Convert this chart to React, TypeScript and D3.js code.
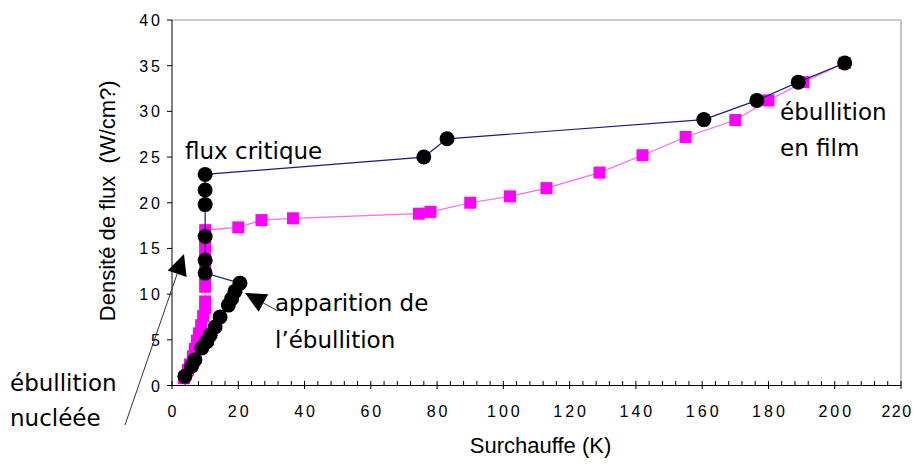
import React from "react";
import * as d3 from "d3";

const xTicks = [0, 20, 40, 60, 80, 100, 120, 140, 160, 180, 200, 220];
const yTicks = [0, 5, 10, 15, 20, 25, 30, 35, 40];

const blackX = [3.9, 5.9, 6.9, 9.0, 10.5, 11.5, 13, 14.5, 17, 18, 19, 20.5, 10, 10, 10, 10, 10, 10, 76, 83, 160.5, 176.5, 189, 203];
const blackY = [1.0, 2.1, 2.8, 4.1, 4.8, 5.5, 6.4, 7.5, 8.8, 9.5, 10.3, 11.2, 12.3, 13.7, 16.3, 19.8, 21.4, 23.1, 25.0, 27.0, 29.1, 31.2, 33.2, 35.3];

const magX = [3.6, 4.8, 5.4, 6.3, 6.9, 7.5, 8.1, 8.8, 9.4, 10, 10, 10, 10, 10, 10, 10, 10, 10, 20, 27, 36.5, 74.5, 78, 90, 102, 113, 129, 142, 155, 170, 180, 190.5, 203];
const magY = [0.8, 1.7, 2.3, 3.2, 4.0, 4.9, 5.7, 6.6, 7.6, 8.5, 9.2, 10.8, 12, 13, 14, 15, 16, 17, 17.3, 18.1, 18.3, 18.8, 19.0, 20.0, 20.7, 21.6, 23.3, 25.2, 27.2, 29.05, 31.2, 33.2, 35.3];

const W = 917;
const H = 465;

function Arrow({ x1, y1, x2, y2 }: { x1: number; y1: number; x2: number; y2: number }) {
  const dx = x2 - x1;
  const dy = y2 - y1;
  const len = Math.hypot(dx, dy);
  const ux = dx / len;
  const uy = dy / len;
  const hl = 21;
  const hw = 10;
  const bx = x2 - ux * hl;
  const by = y2 - uy * hl;
  const pts = `${x2},${y2} ${bx - uy * hw},${by + ux * hw} ${bx + uy * hw},${by - ux * hw}`;
  return (
    <g>
      <line x1={x1} y1={y1} x2={bx} y2={by} stroke="#333" strokeWidth={1} />
      <polygon points={pts} fill="#000" />
    </g>
  );
}

export default function App() {
  const x = d3.scaleLinear().domain([0, 220]).range([172, 901]);
  const y = d3.scaleLinear().domain([0, 40]).range([385.5, 20]);

  const blackPts: [number, number][] = blackX.map((v, i) => [v, blackY[i]]);
  const magPts: [number, number][] = magX.map((v, i) => [v, magY[i]]);
  const line = d3
    .line<[number, number]>()
    .x((d) => x(d[0]))
    .y((d) => y(d[1]));

  const minorTicks = d3.range(0, 221, 4);
  const tickFont = "'Liberation Sans', Arial, sans-serif";
  const annFont = "'DejaVu Sans', sans-serif";
  const sq = 12;

  return (
    <svg
      width={W}
      height={H}
      style={{ position: "absolute", left: 0, top: 0, background: "#fff" }}
    >
      <rect x={0} y={0} width={W} height={H} fill="#fff" />
      {/* plot border */}
      <line x1={x(0)} y1={y(40)} x2={x(220)} y2={y(40)} stroke="#999" strokeWidth={1.2} />
      <line x1={x(220)} y1={y(40)} x2={x(220)} y2={y(0)} stroke="#999" strokeWidth={1.2} />

      {/* axes */}
      <line x1={x(0)} y1={y(0)} x2={x(220)} y2={y(0)} stroke="#000" strokeWidth={1} />
      <line x1={x(0)} y1={y(0)} x2={x(0)} y2={y(40)} stroke="#000" strokeWidth={1} />
      {minorTicks.map((t) => (
        <line key={"m" + t} x1={x(t)} x2={x(t)} y1={y(0) - 4.5} y2={t % 20 === 0 ? y(0) + 3.5 : y(0)} stroke="#000" strokeWidth={1} />
      ))}
      {yTicks.map((t) => (
        <line key={"yt" + t} x1={x(0) - 5} x2={x(0)} y1={y(t)} y2={y(t)} stroke="#000" strokeWidth={1} />
      ))}
      {xTicks.map((t) => (
        <text
          key={"xl" + t}
          x={t === 220 ? x(t) - 4 : x(t) + 1.5}
          y={y(0) + 31}
          textAnchor="middle"
          fontFamily={tickFont}
          fontSize={16}
          letterSpacing={t === 220 ? 1.5 : 3}
          fill="#000"
        >
          {t}
        </text>
      ))}
      {yTicks.map((t) => (
        <text
          key={"yl" + t}
          x={163}
          y={y(t) + 6}
          textAnchor="end"
          fontFamily={tickFont}
          fontSize={16}
          letterSpacing={3}
          fill="#000"
        >
          {t}
        </text>
      ))}
      <text
        x={x(110) + 4}
        y={453}
        textAnchor="middle"
        fontFamily={tickFont}
        fontSize={22}
        fill="#000"
      >
        Surchauffe (K)
      </text>
      <text
        transform={`translate(115, ${y(20) - 2}) rotate(-90)`}
        textAnchor="middle"
        fontFamily={tickFont}
        fontSize={22}
        fill="#000"
        style={{ whiteSpace: "pre" }}
      >
        {"Densité de flux  (W/cm?)"}
      </text>

      {/* magenta series */}
      <path d={line(magPts) || ""} fill="none" stroke="#ff66ff" strokeWidth={1.2} />
      {magPts.map((d, i) => (
        <rect key={"s" + i} x={x(d[0]) - sq / 2} y={y(d[1]) - sq / 2} width={sq} height={sq} fill="#ff00ff" />
      ))}

      {/* black series */}
      <path d={line(blackPts) || ""} fill="none" stroke="#1a1a80" strokeWidth={1.2} />
      {blackPts.map((d, i) => (
        <circle key={"c" + i} cx={x(d[0])} cy={y(d[1])} r={7.5} fill="#000" />
      ))}

      {/* annotations */}
      <g fontFamily={annFont} fontSize={23} fill="#000">
        <text x={185} y={159}>flux critique</text>
        <text x={780} y={120}>ébullition</text>
        <text x={780} y={156}>en film</text>
        <text x={275} y={311}>apparition de</text>
        <text x={275} y={348}>l’ébullition</text>
        <text x={10} y={391}>ébullition</text>
        <text x={10} y={426}>nucléée</text>
      </g>
      <Arrow x1={125} y1={425} x2={184} y2={254} />
      <Arrow x1={278} y1={311} x2={245} y2={293} />
    </svg>
  );
}
